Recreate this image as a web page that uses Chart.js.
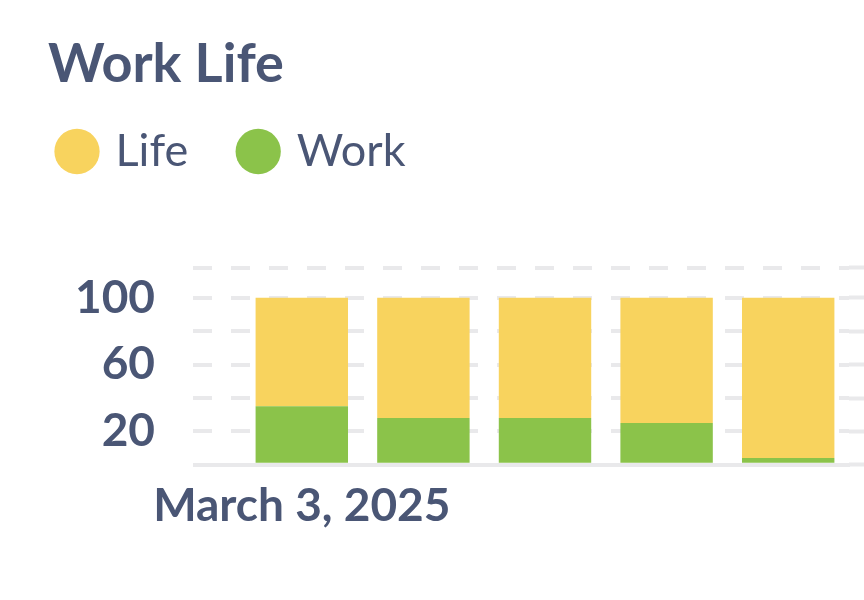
<!DOCTYPE html>
<html>
<head>
<meta charset="utf-8">
<title>Work Life</title>
<script src="https://cdn.jsdelivr.net/npm/chart.js@4.4.1/dist/chart.umd.min.js"></script>
<style>
  html, body { margin: 0; padding: 0; background: #fff; overflow: hidden; }
  #wrap { width: 864px; height: 600px; }
</style>
</head>
<body>
<div id="wrap"><canvas id="workLifeChart" width="864" height="600"></canvas></div>
<script>
// data
const days = ["March 3, 2025", "March 4, 2025", "March 5, 2025", "March 6, 2025", "March 7, 2025"];
const workValues = [35, 28, 28, 25, 4];
const lifeValues = [65, 72, 72, 75, 96];
const yTicks = [0, 20, 40, 60, 80, 100, 118];
const yTickLabels = [20, 60, 100];

const textColor = "#4a5675";
const gridColor = "#e9e9eb";
const dash = [19, 19];

// legend sits a bit left/up of where Chart.js would put it, with a wider item gap
const legendPlacement = {
    id: "legendPlacement",
    afterLayout(chart) {
        chart.legend.left = 7;
        chart.legend.top = 75;
    }
};

function tickDash(ctx) {
    return ctx.tick && ctx.tick.value === 0 ? [] : dash;
}

function setTicks(axis) {
    axis.ticks = yTicks.map(v => ({ value: v }));
}

const ctx = document.getElementById("workLifeChart");

new Chart(ctx, {
    type: "bar",
    data: {
        labels: days,
        datasets: [
            {
                label: "Work",
                data: workValues,
                backgroundColor: "#8bc34a",
                borderWidth: 0
            },
            {
                label: "Life",
                data: lifeValues,
                backgroundColor: "#f8d35e",
                borderWidth: 0
            }
        ]
    },
    options: {
        responsive: false,
        animation: false,
        layout: {
            padding: { left: 48, right: 0, top: 0, bottom: 52 }
        },
        datasets: {
            bar: { categoryPercentage: 0.8, barPercentage: 0.95 }
        },
        plugins: {
            tooltip: { enabled: false },
            title: {
                display: true,
                text: "Work Life",
                align: "start",
                color: textColor,
                font: { family: "Lato", size: 54, weight: "bold" },
                padding: { top: 32, bottom: 62 }
            },
            legend: {
                display: true,
                align: "start",
                reverse: true,
                labels: {
                    usePointStyle: true,
                    pointStyle: "circle",
                    boxWidth: 32,
                    boxHeight: 32,
                    padding: 54,
                    color: textColor,
                    font: { family: "Lato", size: 45 }
                }
            }
        },
        scales: {
            x: {
                stacked: true,
                grid: { display: false, drawTicks: false },
                border: { display: true, color: gridColor, width: 4 },
                ticks: {
                    color: textColor,
                    font: { family: "Lato", size: 46, weight: "bold" },
                    padding: 14,
                    maxRotation: 0,
                    autoSkip: false,
                    callback: (value, index) => index === 0 ? days[index] : ""
                }
            },
            y: {
                stacked: true,
                min: 0,
                max: 118,
                afterBuildTicks: setTicks,
                afterFit: axis => { axis.width = 193; },
                grid: {
                    color: gridColor,
                    lineWidth: 4,
                    drawTicks: true,
                    tickLength: 48,
                    tickColor: gridColor,
                    tickWidth: 4,
                    tickBorderDash: tickDash
                },
                border: { display: false, dash: dash, dashOffset: 10 },
                ticks: {
                    color: textColor,
                    font: { family: "Lato", size: 46, weight: "bold" },
                    padding: 38,
                    autoSkip: false,
                    callback: value => yTickLabels.includes(value) ? value : ""
                }
            },
            y2: {
                position: "right",
                min: 0,
                max: 118,
                afterBuildTicks: setTicks,
                afterFit: axis => { axis.width = 15; },
                grid: {
                    drawOnChartArea: false,
                    drawTicks: true,
                    tickLength: 15,
                    tickColor: gridColor,
                    tickWidth: 4,
                    tickBorderDash: tickDash
                },
                border: { display: false },
                ticks: { display: false }
            }
        }
    },
    plugins: [legendPlacement]
});
</script>
</body>
</html>
